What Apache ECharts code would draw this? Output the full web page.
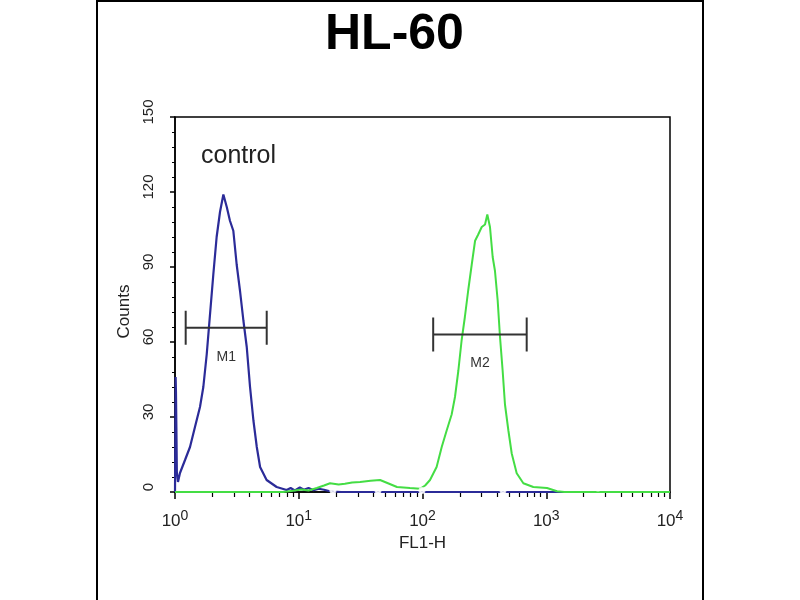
<!DOCTYPE html>
<html><head><meta charset="utf-8">
<script src="https://cdn.jsdelivr.net/npm/echarts@6/dist/echarts.min.js"></script>
<style>html,body{margin:0;padding:0;background:#fff}#c{width:800px;height:600px}</style>
</head><body><div id="c"></div>
<script>
const titleText = 'HL-60';
const sampleLabel = 'control';
const xAxisName = 'FL1-H';
const yAxisName = 'Counts';
const yTickMin = 0, yTickMax = 150, yTickStep = 30;
const xTickBase = ['10', '10', '10', '10', '10'];
const xTickExp = ['0', '1', '2', '3', '4'];
const xMinorTicks = [2,3,4,5,6,7,8,9,20,30,40,50,60,70,80,90,200,300,400,500,600,700,800,900,2000,3000,4000,5000,6000,7000,8000,9000];

const blueX = [1.0, 1.012, 1.018, 1.026, 1.035, 1.057, 1.097, 1.205, 1.322, 1.45, 1.592, 1.694, 1.804, 1.918, 2.04, 2.17, 2.31, 2.46, 2.62, 2.78, 2.96, 3.15, 3.35, 3.57, 3.80, 4.04, 4.30, 4.58, 4.87, 5.5, 6.63, 7.98, 8.6, 9.3, 10.2, 11.0, 12.0, 13.2, 14.5, 16.0, 17.5, 19.0, 22, 10000];
const blueY = [0, 46, 40, 26, 8, 4, 7.6, 12.8, 18, 26, 34, 42, 55, 71, 87, 102, 112, 119, 114, 108.5, 104.5, 91, 80.6, 68.6, 58, 42, 28.7, 18, 10, 4.8, 2, 0.8, 1.6, 0.6, 1.8, 0.9, 1.6, 0.7, 1.3, 0.9, 0.4, 0.2, 0, 0];

const greenX = [1, 7.5, 9, 10.5, 12, 14, 16, 17.9, 21, 23.6, 27, 31.3, 38, 45.4, 52, 62.2, 79.2, 95.5, 105, 115, 130, 143, 157, 172, 183, 195, 207, 220, 234, 250, 266, 282, 301, 320, 334, 351, 369, 385, 405, 423, 444, 464, 494, 526, 577, 653, 786, 1014, 1222, 1400, 10000];
const greenY = [0, 0, 0.5, 1.0, 0.6, 1.6, 2.6, 3.5, 3.0, 3.3, 3.8, 4.0, 4.5, 4.8, 3.6, 2.0, 1.6, 1.3, 2.6, 4.8, 10, 18, 24.7, 31, 38, 48.7, 60.6, 70, 80.6, 91, 100.5, 103, 106, 107, 111, 106, 94, 88.5, 76.6, 62, 48.7, 35, 24.7, 15.4, 7.5, 3.5, 2, 1.6, 0.3, 0, 0];

const markX = [18.9, 43.7, 99, 447, 2620];
const markY = [0.6, 0.6, 0.6, 0.6, 1.6];

const gateNames = ['M1', 'M2'];
const gateStart = [1.22, 122];
const gateEnd = [5.51, 695];
const gateLevel = [65.7, 63];

const chart = echarts.init(document.getElementById('c'), null, {renderer: 'canvas'});
const FONT = 'Liberation Sans, Arial, sans-serif';

const option = {
  animation: false,
  backgroundColor: '#fff',
  textStyle: {fontFamily: FONT},
  title: [
    {text: titleText, left: 320, top: 5, textStyle: {fontSize: 50, fontWeight: 'bold', color: '#000', fontFamily: FONT}},
    {text: sampleLabel, left: 196, top: 139, textStyle: {fontSize: 25, fontWeight: 'normal', color: '#222', fontFamily: FONT}}
  ],
  graphic: [
    {type: 'rect', shape: {x: 97, y: 1, width: 606, height: 640}, style: {fill: 'none', stroke: '#000', lineWidth: 2}, silent: true}
  ],
  grid: {left: 175, right: 130, top: 117, bottom: 108, show: true, borderColor: '#000', borderWidth: 1.5, backgroundColor: 'transparent'},
  xAxis: [
    {
      type: 'log', logBase: 10, min: 1, max: 10000,
      name: xAxisName, nameLocation: 'middle', nameGap: 38,
      nameTextStyle: {fontSize: 17, color: '#222', fontFamily: FONT},
      axisLine: {lineStyle: {color: '#000', width: 1.5}},
      axisTick: {show: true, length: 7, lineStyle: {color: '#000', width: 1.5}},
      splitLine: {show: false},
      minorTick: {show: false},
      axisLabel: {
        margin: 17, color: '#222',
        formatter: function (v) {
          const i = Math.round(Math.log10(v));
          return '{b|' + xTickBase[i] + '}{s|' + xTickExp[i] + '}';
        },
        rich: {
          b: {fontSize: 17, color: '#222', fontFamily: FONT},
          s: {fontSize: 14, color: '#222', fontFamily: FONT, padding: [0, 0, 11, 0]}
        }
      }
    },
    {
      type: 'value', min: 0, max: 4, position: 'bottom',
      axisLine: {show: false},
      axisLabel: {show: false},
      splitLine: {show: false},
      axisTick: {show: true, length: 5, lineStyle: {color: '#000', width: 1.2}, customValues: xMinorTicks.map(v => Math.log10(v))}
    }
  ],
  yAxis: {
    type: 'value', min: yTickMin, max: yTickMax, interval: yTickStep,
    name: yAxisName, nameLocation: 'middle', nameGap: 42, nameRotate: 90,
    nameTextStyle: {fontSize: 17, color: '#222', fontFamily: FONT, padding: [0, 14, 0, 0]},
    axisLine: {show: true, lineStyle: {color: '#000', width: 1.5}},
    axisTick: {show: true, length: 5, lineStyle: {color: '#000', width: 1.5}},
    minorTick: {show: true, splitNumber: 5, length: 3, lineStyle: {color: '#000', width: 1}},
    splitLine: {show: false},
    axisLabel: {rotate: 90, margin: 19, fontSize: 15, color: '#222', fontFamily: FONT, padding: [0, 0, 0, 10]}
  },
  series: [
    {
      type: 'line', name: 'blue', showSymbol: false, symbol: 'none', clip: false,
      data: blueX.map((x, i) => [x, blueY[i]]),
      lineStyle: {color: '#2b2b98', width: 2.2}, z: 3
    },
    {
      type: 'line', name: 'green', showSymbol: false, symbol: 'none', clip: false,
      data: greenX.map((x, i) => [x, greenY[i]]),
      lineStyle: {color: '#44dd44', width: 2}, z: 4
    },
    {
      type: 'scatter', name: 'marks', symbol: 'emptyCircle', symbolSize: 5,
      data: markX.map((x, i) => [x, markY[i]]),
      itemStyle: {color: '#fff', borderColor: '#3a3a90', borderWidth: 1.2}, z: 5
    },
    {
      type: 'custom', name: 'gates', z: 6,
      encode: {x: [0, 1], y: 2},
      data: gateNames.map((n, i) => [gateStart[i], gateEnd[i], gateLevel[i], n]),
      renderItem: function (params, api) {
        const s = api.coord([api.value(0), api.value(2)]);
        const e = api.coord([api.value(1), api.value(2)]);
        const name = gateNames[params.dataIndex];
        const st = {stroke: '#333', lineWidth: 2};
        return {
          type: 'group',
          children: [
            {type: 'line', shape: {x1: s[0], y1: s[1], x2: e[0], y2: e[1]}, style: st},
            {type: 'line', shape: {x1: s[0], y1: s[1] - 17, x2: s[0], y2: s[1] + 17}, style: st},
            {type: 'line', shape: {x1: e[0], y1: e[1] - 17, x2: e[0], y2: e[1] + 17}, style: st},
            {type: 'text', x: (s[0] + e[0]) / 2, y: s[1] + 29,
             style: {text: name, fill: '#333', font: '14px ' + FONT, align: 'center', verticalAlign: 'middle'}}
          ]
        };
      }
    }
  ]
};
chart.setOption(option);
</script>
</body></html>
